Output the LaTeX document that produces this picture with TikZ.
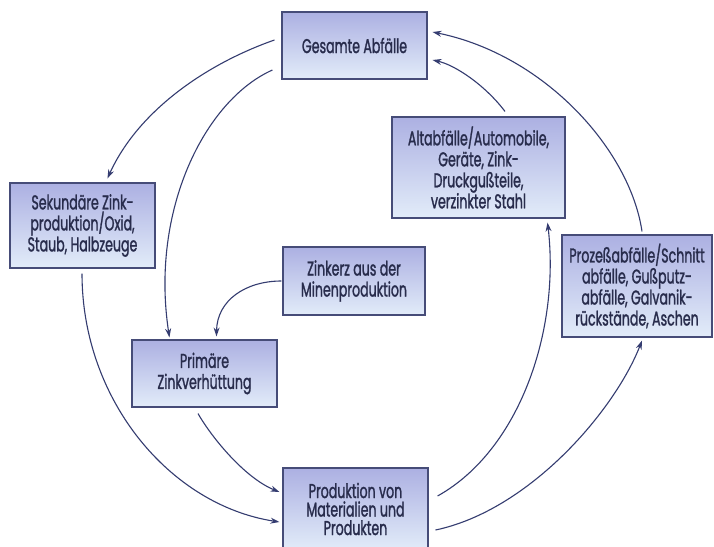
\documentclass[tikz,border=0pt]{standalone}
\usepackage{fontspec}
\setmainfont{Poppins}[FakeStretch=0.63, FakeBold=1.3]
\usetikzlibrary{arrows.meta,shadows}
\definecolor{boxtop}{RGB}{172,176,226}
\definecolor{boxbot}{RGB}{226,236,249}
\definecolor{boxedge}{RGB}{70,76,120}
\definecolor{txt}{RGB}{40,44,76}
\definecolor{arr}{RGB}{52,60,112}
\tikzset{
  box/.style={draw=boxedge, line width=1.1pt, top color=boxtop, bottom color=boxbot,
    text=txt, align=center, inner sep=0pt,
    font=\fontsize{20}{21}\selectfont,
    drop shadow={shadow xshift=1.2pt, shadow yshift=-1.2pt, fill=black!25, opacity=0.5}},
  flow/.style={draw=arr, line width=1.1pt, -{Stealth[length=9pt,width=6pt]}}
}
\begin{document}
\begin{tikzpicture}[x=1pt,y=-1pt]
\useasboundingbox (0,0) rectangle (714,546);
\fill[white] (0,0) rectangle (714,546);
\node[box, minimum width=145pt, minimum height=67pt] (G) at (354.5,45.5) {Gesamte Abfälle};
\node[box, minimum width=145pt, minimum height=85pt] (S) at (82.5,225.5) {Sekundäre Zink-\\produktion/Oxid,\\Staub, Halbzeuge};
\node[box, minimum width=173pt, minimum height=101pt] (A) at (478.5,167.5) {Altabfälle/Automobile,\\Geräte, Zink-\\Druckgußteile,\\verzinkter Stahl};
\node[box, minimum width=150pt, minimum height=102pt] (P) at (637,286) {Prozeßabfälle/Schnitt\\abfälle, Gußputz-\\abfälle, Galvanik-\\rückstände, Aschen};
\node[box, minimum width=142pt, minimum height=68pt] (Z) at (354,281) {Zinkerz aus der\\Minenproduktion};
\node[box, minimum width=145pt, minimum height=67pt] (R) at (204.5,373.5) {Primäre\\Zinkverhüttung};
\node[box, minimum width=145pt, minimum height=82pt, font=\fontsize{20}{18.5}\selectfont] (D) at (355.5,509) {Produktion von\\Materialien und\\Produkten};

% connectors
\draw[flow] ([xshift=-7pt,yshift=5.5pt]G.west) .. controls (206,64) and (138,111) .. ([xshift=98pt,yshift=4pt]S.north west);
\draw[flow] ([xshift=-9pt,yshift=-24.5pt]G.west) .. controls (205,100) and (150,210) .. ([xshift=38pt,yshift=2pt]R.north west);
\draw[flow] ([xshift=-1pt]Z.west) .. controls (246,281) and (217,300) .. ([xshift=85pt,yshift=3pt]R.north west);
\draw[flow] ([xshift=-0.5pt,yshift=-5pt]S.south) .. controls (82,400) and (170,505) .. ([xshift=-3pt,yshift=-13pt]D.west);
\draw[flow] ([xshift=-6.5pt,yshift=-6pt]R.south) .. controls (212,438) and (245,478) .. ([xshift=-3pt,yshift=17pt]D.west);
\draw[flow] ([xshift=9pt,yshift=13pt]D.east) .. controls (520,450) and (560,330) .. ([xshift=-18pt,yshift=-4pt]A.south east);
\draw[flow] ([xshift=7pt,yshift=-21pt]D.east) .. controls (530,510) and (615,410) .. ([xshift=5pt,yshift=-3pt]P.south);
\draw[flow] ([xshift=26.5pt,yshift=5pt]A.north) .. controls (485,85) and (455,65) .. ([xshift=5pt,yshift=-14.5pt]G.east);
\draw[flow] ([xshift=5pt,yshift=3pt]P.north) .. controls (630,150) and (545,55) .. ([xshift=5pt,yshift=13.5pt]G.east);
\end{tikzpicture}
\end{document}
